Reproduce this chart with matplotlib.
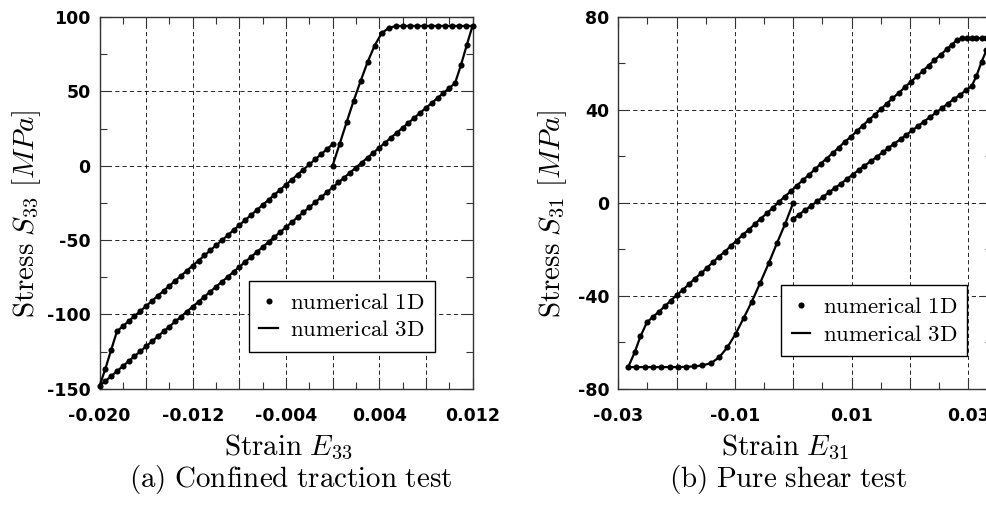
import matplotlib
matplotlib.use("Agg")
import matplotlib.pyplot as plt
from matplotlib.lines import Line2D

plt.rcParams["mathtext.fontset"] = "cm"
plt.rcParams["font.family"] = ["DejaVu Sans"]
plt.rcParams["lines.scale_dashes"] = False

# ---------------- (a) confined traction test ----------------
# loading 0 -> 0.012
e33_load = [0.0000, 0.0006, 0.0012, 0.0018, 0.0024, 0.0030, 0.0036, 0.0042, 0.0048,
            0.0054, 0.0060, 0.0066, 0.0072, 0.0078, 0.0084, 0.0090, 0.0096, 0.0102,
            0.0108, 0.0114, 0.0120]
s33_load = [0.0, 14.6, 29.2, 43.6, 56.9, 69.7, 80.7, 89.0, 92.6,
            93.9, 94.0, 94.0, 94.0, 94.0, 94.0, 94.0, 94.0, 94.0,
            94.0, 94.0, 94.0]
# unloading 0.012 -> -0.020
e33_unload = [0.0115, 0.0110, 0.0105, 0.0100, 0.0095, 0.0090, 0.0085, 0.0080, 0.0075,
              0.0070, 0.0065, 0.0060, 0.0055, 0.0050, 0.0045, 0.0040, 0.0035, 0.0030,
              0.0025, 0.0020, 0.0015, 0.0010, 0.0005, 0.0000, -0.0005, -0.0010, -0.0015,
              -0.0020, -0.0025, -0.0030, -0.0035, -0.0040, -0.0045, -0.0050, -0.0055,
              -0.0060, -0.0065, -0.0070, -0.0075, -0.0080, -0.0085, -0.0090, -0.0095,
              -0.0100, -0.0105, -0.0110, -0.0115, -0.0120, -0.0125, -0.0130, -0.0135,
              -0.0140, -0.0145, -0.0150, -0.0155, -0.0160, -0.0165, -0.0170, -0.0175,
              -0.0180, -0.0185, -0.0190, -0.0195, -0.0200]
s33_unload = [80.9, 67.4, 55.5, 52.2, 48.8, 45.5, 42.1, 38.8, 35.5,
              32.1, 28.8, 25.4, 22.1, 18.8, 15.4, 12.1, 8.7, 5.4,
              2.1, -1.3, -4.6, -8.0, -11.3, -14.6, -18.0, -21.3, -24.7,
              -28.0, -31.3, -34.7, -38.0, -41.4, -44.7, -48.0, -51.4,
              -54.7, -58.1, -61.4, -64.7, -68.1, -71.4, -74.8, -78.1,
              -81.4, -84.8, -88.1, -91.5, -94.8, -98.1, -101.5, -104.8,
              -108.2, -111.5, -114.8, -118.2, -121.5, -124.9, -128.2, -131.5,
              -134.9, -138.2, -141.6, -144.9, -148.2]
# reloading -0.020 -> 0
e33_reload = [-0.0195, -0.0190, -0.0185, -0.0180, -0.0175, -0.0170, -0.0165, -0.0160,
              -0.0155, -0.0150, -0.0145, -0.0140, -0.0135, -0.0130, -0.0125, -0.0120,
              -0.0115, -0.0110, -0.0105, -0.0100, -0.0095, -0.0090, -0.0085, -0.0080,
              -0.0075, -0.0070, -0.0065, -0.0060, -0.0055, -0.0050, -0.0045, -0.0040,
              -0.0035, -0.0030, -0.0025, -0.0020, -0.0015, -0.0010, -0.0005, 0.0000]
s33_reload = [-136.7, -123.9, -111.4, -108.0, -104.6, -101.2, -97.8, -94.4,
              -91.0, -87.6, -84.2, -80.8, -77.4, -74.0, -70.6, -67.2,
              -63.8, -60.4, -57.0, -53.6, -50.2, -46.8, -43.4, -40.0,
              -36.6, -33.2, -29.8, -26.4, -23.0, -19.6, -16.2, -12.8,
              -9.4, -6.0, -2.6, 0.8, 4.2, 7.6, 11.0, 14.4]

# ---------------- (b) pure shear test ----------------
# loading 0 -> -0.0283
e31_load = [0.0000, -0.0014, -0.0028, -0.0042, -0.0057, -0.0071, -0.0085, -0.0099,
            -0.0113, -0.0127, -0.0141, -0.0156, -0.0170, -0.0184, -0.0198, -0.0212,
            -0.0226, -0.0240, -0.0255, -0.0269, -0.0283]
s31_load = [0.0, -9.1, -17.4, -26.0, -34.6, -42.5, -49.6, -56.5,
            -62.2, -66.5, -69.0, -70.0, -70.4, -70.6, -70.7, -70.7,
            -70.7, -70.7, -70.7, -70.7, -70.7]
# reverse loading -0.0283 -> 0.034
e31_reverse = [-0.0272, -0.0262, -0.0251, -0.0241, -0.0230, -0.0220, -0.0210, -0.0200,
               -0.0189, -0.0179, -0.0169, -0.0158, -0.0148, -0.0138, -0.0128, -0.0117,
               -0.0107, -0.0097, -0.0087, -0.0076, -0.0066, -0.0056, -0.0045, -0.0035,
               -0.0025, -0.0015, -0.0004, 0.0006, 0.0016, 0.0027, 0.0037, 0.0047,
               0.0057, 0.0068, 0.0078, 0.0088, 0.0099, 0.0109, 0.0119, 0.0129,
               0.0140, 0.0150, 0.0160, 0.0170, 0.0181, 0.0191, 0.0201, 0.0212,
               0.0222, 0.0232, 0.0242, 0.0253, 0.0263, 0.0272, 0.0280, 0.0289,
               0.0297, 0.0306, 0.0314, 0.0323, 0.0331, 0.0340]
s31_reverse = [-64.4, -57.5, -51.5, -49.2, -46.8, -44.5, -42.1, -39.8,
               -37.4, -35.1, -32.7, -30.4, -28.0, -25.7, -23.3, -21.0,
               -18.6, -16.3, -13.9, -11.6, -9.2, -6.9, -4.5, -2.2,
               0.2, 2.6, 4.9, 7.3, 9.6, 12.0, 14.3, 16.7,
               19.0, 21.4, 23.7, 26.1, 28.4, 30.8, 33.1, 35.5,
               37.8, 40.2, 42.5, 44.9, 47.2, 49.6, 51.9, 54.3,
               56.6, 59.0, 61.3, 63.7, 66.0, 68.0, 69.9, 70.8,
               70.8, 70.8, 70.8, 70.8, 70.8, 70.8]
# return 0.034 -> 0
e31_return = [0.0331, 0.0323, 0.0314, 0.0306, 0.0296, 0.0286, 0.0275, 0.0265, 0.0255,
              0.0245, 0.0235, 0.0224, 0.0214, 0.0204, 0.0194, 0.0184, 0.0173, 0.0163,
              0.0153, 0.0143, 0.0133, 0.0122, 0.0112, 0.0102, 0.0092, 0.0082, 0.0071,
              0.0061, 0.0051, 0.0041, 0.0031, 0.0020, 0.0010, 0.0000]
s31_return = [65.5, 60.7, 54.5, 50.2, 48.3, 46.4, 44.5, 42.6, 40.7,
              38.8, 36.9, 34.9, 33.0, 31.1, 29.2, 27.3, 25.4, 23.5,
              21.6, 19.7, 17.8, 15.9, 14.0, 12.1, 10.2, 8.2, 6.3,
              4.4, 2.5, 0.6, -1.3, -3.2, -5.1, -7.0]

# axis tick definitions
xt_a = [-0.020, -0.016, -0.012, -0.008, -0.004, 0.000, 0.004, 0.008, 0.012]
xtl_a = ["-0.020", "", "-0.012", "", "-0.004", "", "0.004", "", "0.012"]
xm_a = [-0.018, -0.014, -0.010, -0.006, -0.002, 0.002, 0.006, 0.010]
yt_a = [-150, -100, -50, 0, 50, 100]
ytl_a = ["-150", "-100", "-50", "0", "50", "100"]
ym_a = [-125, -75, -25, 25, 75]

xt_b = [-0.03, -0.02, -0.01, 0.00, 0.01, 0.02, 0.03]
xtl_b = ["-0.03", "", "-0.01", "", "0.01", "", "0.03"]
xm_b = [-0.025, -0.015, -0.005, 0.005, 0.015, 0.025]
yt_b = [-80, -40, 0, 40, 80]
ytl_b = ["-80", "-40", "0", "40", "80"]
ym_b = [-60, -20, 20, 60]

W, H = 986, 509
fig = plt.figure(figsize=(W / 100, H / 100), dpi=100)
fig.patch.set_facecolor("white")
ax1 = fig.add_axes([99.5 / W, 1 - 388.7 / H, 373 / W, 371.7 / H])
ax2 = fig.add_axes([618.3 / W, 1 - 388.7 / H, 373.3 / W, 372 / H])

SPINE = "#333333"
TICKFONT = dict(family="DejaVu Sans", weight="bold", size=12.5)


def style(ax, xlim, ylim, xt, xtl, xm, yt, ytl, ym):
    ax.set_xlim(*xlim)
    ax.set_ylim(*ylim)
    ax.set_xticks(xt)
    ax.set_xticklabels(xtl, fontdict=TICKFONT)
    ax.set_xticks(xm, minor=True)
    ax.set_yticks(yt)
    ax.set_yticklabels(ytl, fontdict=TICKFONT)
    ax.set_yticks(ym, minor=True)
    ax.set_axisbelow(True)
    ax.grid(True, which="major", color="black", lw=0.6, ls=(0, (3.0, 2.3)))
    ax.tick_params(which="both", direction="in", top=True, right=True,
                   color=SPINE, width=0.8)
    ax.tick_params(which="major", length=8)
    ax.tick_params(which="minor", length=5)
    ax.tick_params(axis="x", pad=13.0)
    ax.tick_params(axis="y", pad=6.5)
    for s in ax.spines.values():
        s.set_color(SPINE)
        s.set_linewidth(1.0)


style(ax1, (-0.020, 0.012), (-150, 100), xt_a, xtl_a, xm_a, yt_a, ytl_a, ym_a)
style(ax2, (-0.030, 0.034), (-80, 80), xt_b, xtl_b, xm_b, yt_b, ytl_b, ym_b)

e33 = e33_load + e33_unload + e33_reload
s33 = s33_load + s33_unload + s33_reload
e31 = e31_load + e31_reverse + e31_return
s31 = s31_load + s31_reverse + s31_return

for ax, e, s in ((ax1, e33, s33), (ax2, e31, s31)):
    ax.plot(e, s, "-", color="black", lw=1.6, clip_on=False, zorder=3)
    ax.plot(e, s, "o", color="black", ms=4.4, mew=0, clip_on=False, zorder=4)

LABEL = 20.9
ax1.set_xlabel(r"$\mathrm{Strain}\ E_{33}$", fontsize=LABEL)
ax1.set_ylabel(r"$\mathrm{Stress}\ S_{33}\ [MPa]$", fontsize=LABEL)
ax2.set_xlabel(r"$\mathrm{Strain}\ E_{31}$", fontsize=LABEL)
ax2.set_ylabel(r"$\mathrm{Stress}\ S_{31}\ [MPa]$", fontsize=LABEL)
for ax, xl, yl in ((ax1, (0.506, -0.158), (-0.195, 0.469)),
                   (ax2, (0.447, -0.158), (-0.176, 0.469))):
    ax.xaxis.set_label_coords(*xl)
    ax.xaxis.label.set_va("center")
    ax.yaxis.set_label_coords(*yl)
    ax.yaxis.label.set_va("center")

handles = [Line2D([], [], marker="o", ls="none", color="black", ms=4.4, mew=0),
           Line2D([], [], color="black", lw=1.6)]
labels = [r"$\mathrm{numerical\ 1D}$", r"$\mathrm{numerical\ 3D}$"]
for ax, anchor in ((ax1, (0.8995, 0.0995)), (ax2, (0.935, 0.088))):
    leg = ax.legend(handles, labels, loc="lower right", bbox_to_anchor=anchor,
                    borderaxespad=0, fontsize=16.5, handlelength=0.8,
                    handletextpad=0.55, labelspacing=0.2, borderpad=0.45,
                    fancybox=False, framealpha=1, edgecolor="black")
    leg.get_frame().set_linewidth(1.0)
    leg.set_zorder(5)

fig.text(291 / W, 1 - 479.5 / H, r"$\mathrm{(a)\ Confined\ traction\ test}$",
         fontsize=LABEL, ha="center", va="center")
fig.text(788 / W, 1 - 479.5 / H, r"$\mathrm{(b)\ Pure\ shear\ test}$",
         fontsize=LABEL, ha="center", va="center")

fig.savefig("out.png", dpi=100, facecolor="white")
